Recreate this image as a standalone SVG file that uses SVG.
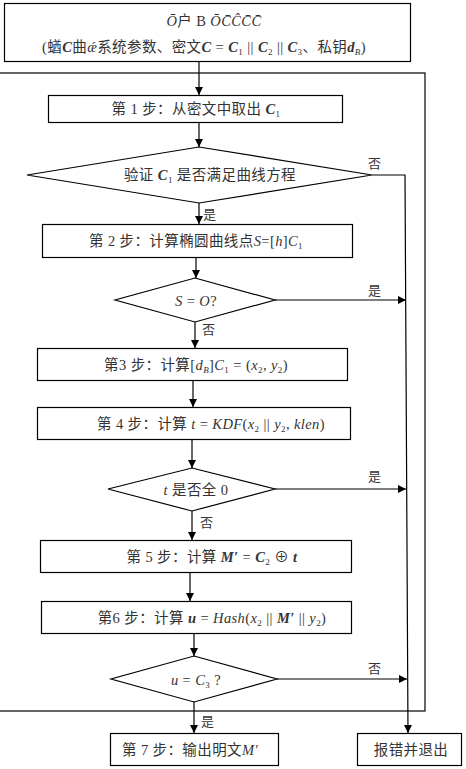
<svg xmlns="http://www.w3.org/2000/svg" width="466" height="769" viewBox="0 0 466 769">
<defs>
<marker id="ah" viewBox="0 0 10 10" refX="10" refY="5" markerWidth="9" markerHeight="8" markerUnits="userSpaceOnUse" orient="auto">
<path d="M0,0 L10,5 L0,10 Z" fill="#000"/>
</marker>
<style>
.box{fill:#fff;stroke:#000;stroke-width:1.2}
.frame{fill:none;stroke:#000;stroke-width:1.2}
.ln{fill:none;stroke:#000;stroke-width:1.2}
.t{font-family:"Liberation Serif","Noto Sans CJK SC",serif;font-size:14.5px;fill:#333;text-anchor:middle;letter-spacing:0.4px}
.m{font-style:italic;font-weight:bold}
.lb{font-family:"Liberation Serif","Noto Sans CJK SC",serif;font-size:13px;fill:#333}
</style>
</defs>
<rect x="0" y="0" width="466" height="769" fill="#fff"/>
<rect class="frame" x="-2" y="73" width="427" height="638"/>
<g id="input">
<rect class="box" x="4.5" y="3.5" width="406" height="58"/>
<text class="t" x="214" y="26" font-size="16"><tspan font-style="italic">Ō</tspan>户 B <tspan font-style="italic">ŌC̄ĈC̄C̄</tspan></text>
<text class="t" x="204" y="52" font-size="15">(蝤<tspan class="m">C</tspan>曲<tspan font-style="italic">ǽ</tspan>系统参数、密文<tspan class="m">C</tspan> = <tspan class="m">C</tspan><tspan font-size="9" dy="3">1</tspan><tspan dy="-3"> || </tspan><tspan class="m">C</tspan><tspan font-size="9" dy="3">2</tspan><tspan dy="-3"> || </tspan><tspan class="m">C</tspan><tspan font-size="9" dy="3">3</tspan><tspan dy="-3">、私钥</tspan><tspan class="m">d</tspan><tspan font-size="9" dy="3" font-style="italic">B</tspan><tspan dy="-3">)</tspan></text>
</g>
<g id="step1">
<rect class="box" x="48.5" y="95.5" width="294" height="27"/>
<text class="t" x="196" y="114">第 1 步：从密文中取出 <tspan class="m">C</tspan><tspan font-size="9" dy="3">1</tspan></text>
</g>
<g id="dec1">
<polygon class="box" points="199,147 372,175 199,203 27,175"/>
<text class="t" x="210" y="180">验证 <tspan class="m">C</tspan><tspan font-size="9" dy="3">1</tspan><tspan dy="-3"> 是否满足曲线方程</tspan></text>
</g>
<g id="step2">
<rect class="box" x="42.5" y="224.5" width="310" height="33"/>
<text class="t" x="196" y="246">第 2 步：计算椭圆曲线点<tspan font-style="italic">S</tspan>=[<tspan font-style="italic">h</tspan>]<tspan font-style="italic">C</tspan><tspan font-size="9" dy="3">1</tspan></text>
</g>
<g id="dec2">
<polygon class="box" points="195,278 275,300 195,322 115,300"/>
<text class="t" x="196" y="306" font-size="16"><tspan font-style="italic">S</tspan> = <tspan font-style="italic">O</tspan>?</text>
</g>
<g id="step3">
<rect class="box" x="37.5" y="348.5" width="310" height="32"/>
<text class="t" x="196" y="370">第3 步：计算[<tspan font-style="italic">d</tspan><tspan font-size="9" dy="3" font-style="italic">B</tspan><tspan dy="-3">]</tspan><tspan font-style="italic">C</tspan><tspan font-size="9" dy="3">1</tspan><tspan dy="-3"> = (</tspan><tspan font-style="italic">x</tspan><tspan font-size="9" dy="3">2</tspan><tspan dy="-3">, </tspan><tspan font-style="italic">y</tspan><tspan font-size="9" dy="3">2</tspan><tspan dy="-3">)</tspan></text>
</g>
<g id="step4">
<rect class="box" x="37.5" y="407.5" width="313" height="32"/>
<text class="t" x="211" y="429">第 4 步：计算 <tspan font-style="italic">t</tspan> = <tspan font-style="italic">KDF</tspan>(<tspan font-style="italic">x</tspan><tspan font-size="9" dy="3">2</tspan><tspan dy="-3"> || </tspan><tspan font-style="italic">y</tspan><tspan font-size="9" dy="3">2</tspan><tspan dy="-3">, </tspan><tspan font-style="italic">klen</tspan>)</text>
</g>
<g id="dec3">
<polygon class="box" points="192,468 275,489 192,511 108,489"/>
<text class="t" x="196" y="495"><tspan font-style="italic">t</tspan> 是否全 0</text>
</g>
<g id="step5">
<rect class="box" x="40.5" y="540.5" width="311" height="32"/>
<text class="t" x="212" y="562">第 5 步：计算 <tspan class="m">M′</tspan> = <tspan class="m">C</tspan><tspan font-size="9" dy="3">2</tspan><tspan dy="-3"> ⊕ </tspan><tspan class="m">t</tspan></text>
</g>
<g id="step6">
<rect class="box" x="41.5" y="601.5" width="310" height="32"/>
<text class="t" x="212" y="623">第6 步：计算 <tspan class="m">u</tspan> = <tspan font-style="italic">Hash</tspan>(<tspan font-style="italic">x</tspan><tspan font-size="9" dy="3">2</tspan><tspan dy="-3"> || </tspan><tspan class="m">M′</tspan> || <tspan font-style="italic">y</tspan><tspan font-size="9" dy="3">2</tspan><tspan dy="-3">)</tspan></text>
</g>
<g id="dec4">
<polygon class="box" points="194,656 277,679 194,702 111,679"/>
<text class="t" x="196" y="685"><tspan font-style="italic">u</tspan> = <tspan font-style="italic">C</tspan><tspan font-size="9" dy="3">3</tspan><tspan dy="-3"> ?</tspan></text>
</g>
<g id="step7">
<rect class="box" x="110.5" y="733.5" width="168" height="32"/>
<text class="t" x="190" y="755">第 7 步：输出明文<tspan font-style="italic">M′</tspan></text>
</g>
<g id="error">
<rect class="box" x="357.5" y="733.5" width="104" height="32"/>
<text class="t" x="411" y="755">报错并退出</text>
</g>
<g id="connectors">
<line class="ln" x1="199" y1="62" x2="199" y2="95" marker-end="url(#ah)"/>
<line class="ln" x1="199" y1="123" x2="199" y2="147" marker-end="url(#ah)"/>
<line class="ln" x1="199" y1="203" x2="199" y2="224" marker-end="url(#ah)"/>
<line class="ln" x1="196" y1="258" x2="196" y2="278" marker-end="url(#ah)"/>
<line class="ln" x1="195" y1="322" x2="195" y2="348" marker-end="url(#ah)"/>
<line class="ln" x1="193" y1="381" x2="193" y2="407" marker-end="url(#ah)"/>
<line class="ln" x1="192" y1="440" x2="192" y2="468" marker-end="url(#ah)"/>
<line class="ln" x1="192" y1="511" x2="192" y2="540" marker-end="url(#ah)"/>
<line class="ln" x1="190" y1="573" x2="190" y2="601" marker-end="url(#ah)"/>
<line class="ln" x1="194" y1="634" x2="194" y2="656" marker-end="url(#ah)"/>
<line class="ln" x1="194" y1="702" x2="194" y2="733" marker-end="url(#ah)"/>
<polyline class="ln" points="372,175 405,175 408,733" marker-end="url(#ah)"/>
<line class="ln" x1="275" y1="300" x2="406" y2="300" marker-end="url(#ah)"/>
<line class="ln" x1="275" y1="489" x2="406" y2="489" marker-end="url(#ah)"/>
<line class="ln" x1="277" y1="679" x2="407" y2="679" marker-end="url(#ah)"/>
<text class="lb" x="368" y="168">否</text>
<text class="lb" x="203" y="219">是</text>
<text class="lb" x="368" y="295">是</text>
<text class="lb" x="202" y="334">否</text>
<text class="lb" x="368" y="481">是</text>
<text class="lb" x="200" y="527">否</text>
<text class="lb" x="368" y="673">否</text>
<text class="lb" x="201" y="726">是</text>
</g>
</svg>
